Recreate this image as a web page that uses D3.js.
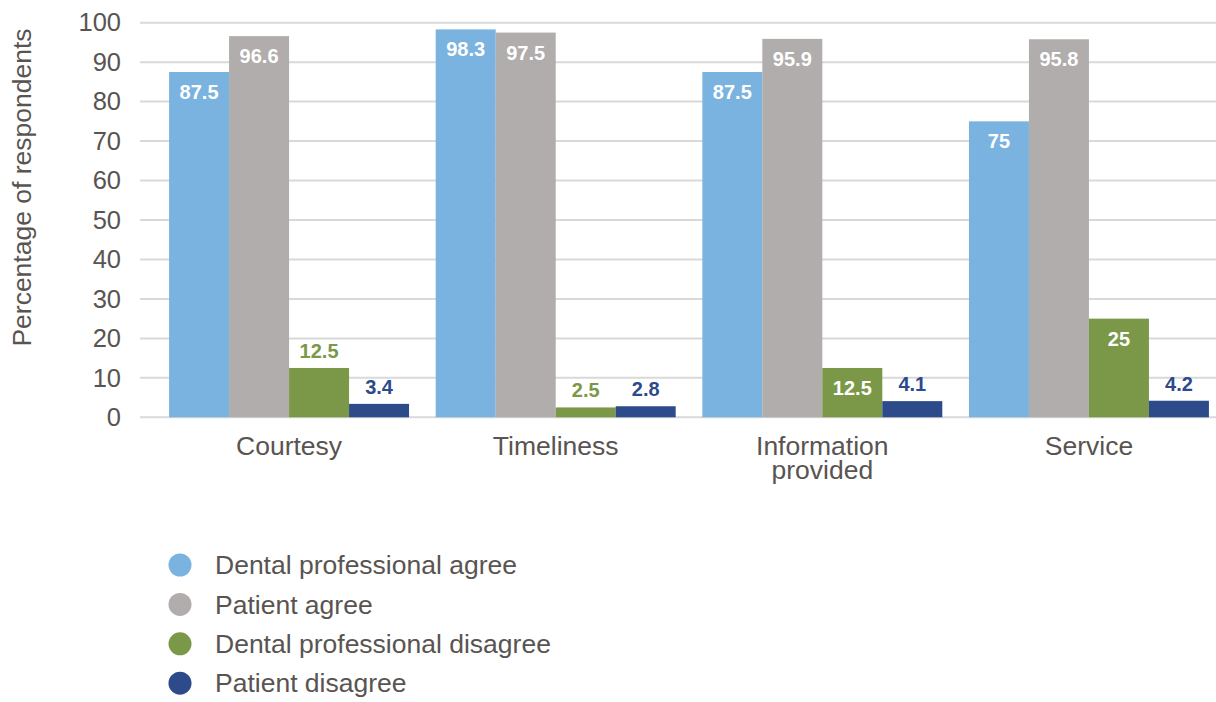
<!DOCTYPE html>
<html>
<head>
<meta charset="utf-8">
<script src="https://cdn.jsdelivr.net/npm/d3@7"></script>
<style>
  html, body { margin: 0; padding: 0; background: #ffffff; }
  svg { display: block; }
  text { font-family: "Liberation Sans", Arial, sans-serif; }
</style>
</head>
<body>
<svg id="chart" width="1216" height="702"></svg>
<script>
// Survey categories (multi-line labels split on "\n")
const categories = ["Courtesy", "Timeliness", "Information\nprovided", "Service"];

// Series names, in drawing / legend order
const seriesNames = [
  "Dental professional agree",
  "Patient agree",
  "Dental professional disagree",
  "Patient disagree"
];

// Percentage of respondents per series, one value per category
const dentalAgree    = [87.5, 98.3, 87.5, 75];
const patientAgree   = [96.6, 97.5, 95.9, 95.8];
const dentalDisagree = [12.5, 2.5, 12.5, 25];
const patientDisagree = [3.4, 2.8, 4.1, 4.2];

// Where each value label sits: inside the bar top (true) or just above it (false)
const labelInsideDentalAgree    = [true, true, true, true];
const labelInsidePatientAgree   = [true, true, true, true];
const labelInsideDentalDisagree = [false, false, true, true];
const labelInsidePatientDisagree = [false, false, false, false];

const yTicks = [0, 10, 20, 30, 40, 50, 60, 70, 80, 90, 100];

const seriesValues = [dentalAgree, patientAgree, dentalDisagree, patientDisagree];
const seriesInside = [labelInsideDentalAgree, labelInsidePatientAgree, labelInsideDentalDisagree, labelInsidePatientDisagree];
const seriesColors = ["#7ab3e0", "#b0adac", "#7a9848", "#2d4a8a"];
const textColor = "#595451";

const svg = d3.select("#chart");

const y = d3.scaleLinear().domain([0, 100]).range([417.3, 22.7]);

const x0 = d3.scaleBand()
  .domain(categories)
  .range([155.75, 1222.25])
  .paddingInner(0.1)
  .paddingOuter(0.05);

const x1 = d3.scaleBand()
  .domain(seriesNames)
  .range([0, x0.bandwidth()])
  .padding(0);

// Horizontal gridlines
const grid = svg.append("g");
grid.selectAll("line")
  .data(yTicks)
  .join("line")
  .attr("x1", 140)
  .attr("x2", 1216)
  .attr("y1", d => y(d))
  .attr("y2", d => y(d))
  .attr("stroke", "#d9d9d9")
  .attr("stroke-width", 2);

// Y axis tick labels
const yAxis = d3.axisLeft(y).tickValues(yTicks).tickSize(0).tickPadding(0);
const yAxisG = svg.append("g")
  .attr("transform", "translate(121,0)")
  .call(yAxis);
yAxisG.select(".domain").remove();
yAxisG.selectAll("text")
  .attr("fill", textColor)
  .attr("font-size", 25.5)
  .attr("font-family", "'Liberation Sans', Arial, sans-serif");

// Y axis title
svg.append("text")
  .attr("transform", `translate(31,${(28 + 347) / 2}) rotate(-90)`)
  .attr("text-anchor", "middle")
  .attr("fill", textColor)
  .attr("font-size", 26.5)
  .text("Percentage of respondents");

// Bars
const groups = svg.append("g")
  .selectAll("g")
  .data(categories)
  .join("g")
  .attr("transform", d => `translate(${x0(d)},0)`);

const barData = (c, ci) => seriesNames.map((s, si) => ({
  series: s,
  si,
  value: seriesValues[si][ci],
  inside: seriesInside[si][ci]
}));

groups.selectAll("rect")
  .data((c, ci) => barData(c, ci))
  .join("rect")
  .attr("x", d => x1(d.series))
  .attr("width", x1.bandwidth())
  .attr("y", d => y(d.value))
  .attr("height", d => y(0) - y(d.value))
  .attr("fill", d => seriesColors[d.si]);

// Value labels
groups.selectAll("text.value")
  .data((c, ci) => barData(c, ci))
  .join("text")
  .attr("class", "value")
  .attr("x", d => x1(d.series) + x1.bandwidth() / 2)
  .attr("y", d => d.inside ? y(d.value) + 27 : y(d.value) - 10)
  .attr("text-anchor", "middle")
  .attr("font-size", 20)
  .attr("font-weight", "bold")
  .attr("fill", d => d.inside ? "#ffffff" : seriesColors[d.si])
  .text(d => d.value);

// Category labels
const catLabels = svg.append("g")
  .selectAll("text")
  .data(categories)
  .join("text")
  .attr("x", d => x0(d) + x0.bandwidth() / 2)
  .attr("y", 455)
  .attr("text-anchor", "middle")
  .attr("fill", textColor)
  .attr("font-size", 26.5);

catLabels.selectAll("tspan")
  .data(d => d.split("\n"))
  .join("tspan")
  .attr("x", function () { return d3.select(this.parentNode).attr("x"); })
  .attr("dy", (d, i) => i === 0 ? 0 : 24)
  .text(d => d);

// Legend
const legend = svg.append("g")
  .selectAll("g")
  .data(seriesNames)
  .join("g")
  .attr("transform", (d, i) => `translate(180,${565 + i * 39.4})`);

legend.append("circle")
  .attr("r", 11.5)
  .attr("fill", (d, i) => seriesColors[i]);

legend.append("text")
  .attr("x", 35)
  .attr("dy", "0.35em")
  .attr("fill", textColor)
  .attr("font-size", 26.5)
  .text(d => d);
</script>
</body>
</html>
